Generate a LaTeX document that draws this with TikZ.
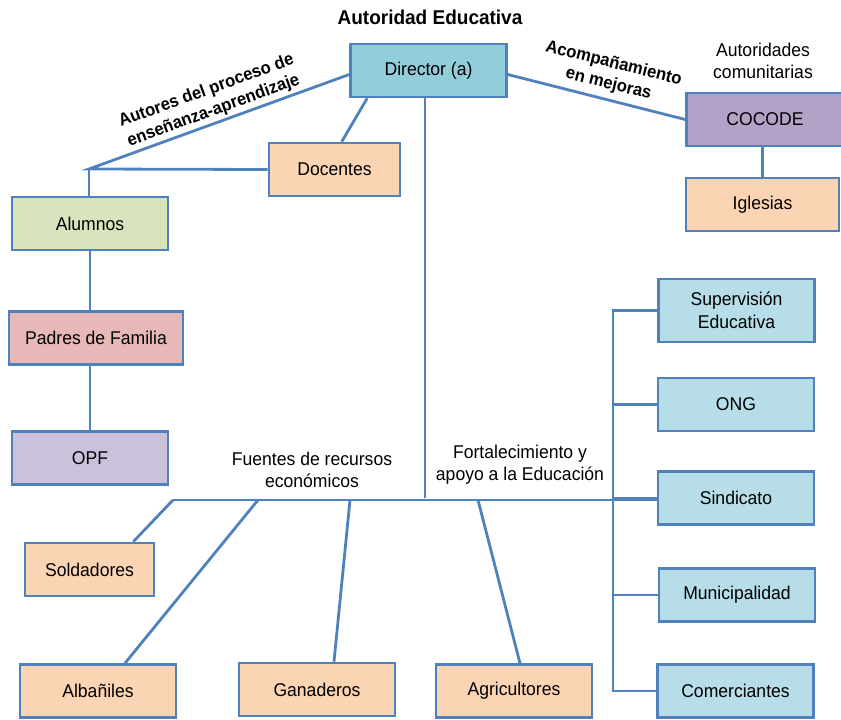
\documentclass[tikz,border=0pt]{standalone}
\usepackage{fontspec}
\setmainfont{Liberation Sans}[FakeStretch=0.95]
\usetikzlibrary{positioning}

\definecolor{lineblue}{RGB}{79,129,189}
\definecolor{dirblue}{RGB}{146,205,220}
\definecolor{paleblue}{RGB}{183,222,232}
\definecolor{peach}{RGB}{251,212,180}
\definecolor{palegreen}{RGB}{215,228,189}
\definecolor{rose}{RGB}{230,185,184}
\definecolor{lavender}{RGB}{204,193,218}
\definecolor{violet}{RGB}{179,162,199}

\begin{document}
\begin{tikzpicture}[
    x=1pt, y=-1pt,
    box/.style={draw=lineblue, line width=2.6pt, minimum width=156pt, minimum height=53pt,
      inner sep=2pt, align=center, font=\fontsize{18.5}{23}\selectfont},
    link/.style={draw=lineblue, line width=2.8pt},
    lbl/.style={align=center, font=\fontsize{18.5}{22}\selectfont},
    blbl/.style={align=center, font=\bfseries\fontsize{17.5}{21}\selectfont}
  ]
  \useasboundingbox (0,0) rectangle (841,720);

  % boxes
  \node[box, fill=dirblue] (dir) at (428.5,70.5) {Director (a)};
  \node[box, fill=peach, minimum width=131pt] (doc) at (334.5,169.5) {Docentes};
  \node[box, fill=palegreen] (alu) at (90,223.5) {Alumnos};
  \node[box, fill=rose, minimum width=174pt] (pad) at (96,338) {Padres de Familia};
  \node[box, fill=lavender] (opf) at (90,458) {OPF};
  \node[box, fill=violet, minimum width=157pt] (cocode) at (765,119.5) {COCODE};
  \node[box, fill=peach, minimum width=153pt] (igl) at (762.5,204.5) {Iglesias};

  \node[box, fill=paleblue, minimum height=63pt] (sup) at (736.5,310.5) {Supervisión\\Educativa};
  \node[box, fill=paleblue] (ong) at (736,404.5) {ONG};
  \node[box, fill=paleblue] (sin) at (736,498) {Sindicato};
  \node[box, fill=paleblue] (mun) at (737,595) {Municipalidad};
  \node[box, fill=paleblue] (com) at (735.5,691) {Comerciantes};

  \node[box, fill=peach, minimum width=129pt] (sol) at (89.5,569.5) {Soldadores};
  \node[box, fill=peach] (alb) at (98,691) {Albañiles};
  \node[box, fill=peach] (gan) at (317,689.5) {Ganaderos};
  \node[box, fill=peach] (agr) at (514,691) {Agricultores};

  % labels
  \node[font=\bfseries\fontsize{20}{24}\selectfont] (title) at (430,17) {Autoridad Educativa};
  \node[blbl, rotate=20] (autores) at (210,101) {Autores del proceso de\\enseñanza-aprendizaje};
  \node[blbl, rotate=-14] (acomp) at (611,74) {Acompañamiento\\en mejoras};
  \node[lbl] (comunit) at (763,61) {Autoridades\\comunitarias};
  \node[lbl] (fuentes) at (312,470) {Fuentes de recursos\\económicos};
  \node[lbl] (fortal) at (520,465) {Fortalecimiento y\\apoyo a la Educación};

  % junctions
  \coordinate (jalu) at (89,169);
  \coordinate (jdir) at (425,498);
  \coordinate (bus) at (173,500);
  \coordinate (balb) at (258,500);
  \coordinate (bgan) at (350,500);
  \coordinate (bagr) at (478,500);
  \coordinate (rbus) at (613,0);

  % links
  \draw[link] ([yshift=-4pt]dir.west) -- (jalu) -- (doc.west);
  \draw[link] ([xshift=18pt]dir.south west) -- ([xshift=74pt]doc.north west);
  \draw[link] (jalu) -- (jalu |- alu.north);
  \draw[link] (alu.south) -- (alu.south |- pad.north);
  \draw[link] (opf.north |- pad.south) -- (opf.north);

  \draw[link] ([yshift=-4pt]dir.east) -- (cocode.west);
  \draw[link] (igl.north |- cocode.south) -- (igl.north);

  \draw[link] ([xshift=-3.5pt]dir.south) -- (jdir);
  \draw[link] (bus) -- (bus -| sin.west);
  \draw[link] (bus) -- ([xshift=-22pt]sol.north east);
  \foreach \n/\s in {alb/27, gan/17, agr/6}
    \draw[link] (b\n) -- ([xshift=\s pt]\n.north);

  \draw[link] (sup.west) -- (sup.west -| rbus) -- (com.west -| rbus) -- (com.west);
  \foreach \n in {ong, sin, mun}
    \draw[link] (\n.west) -- (\n.west -| rbus);
\end{tikzpicture}
\end{document}
